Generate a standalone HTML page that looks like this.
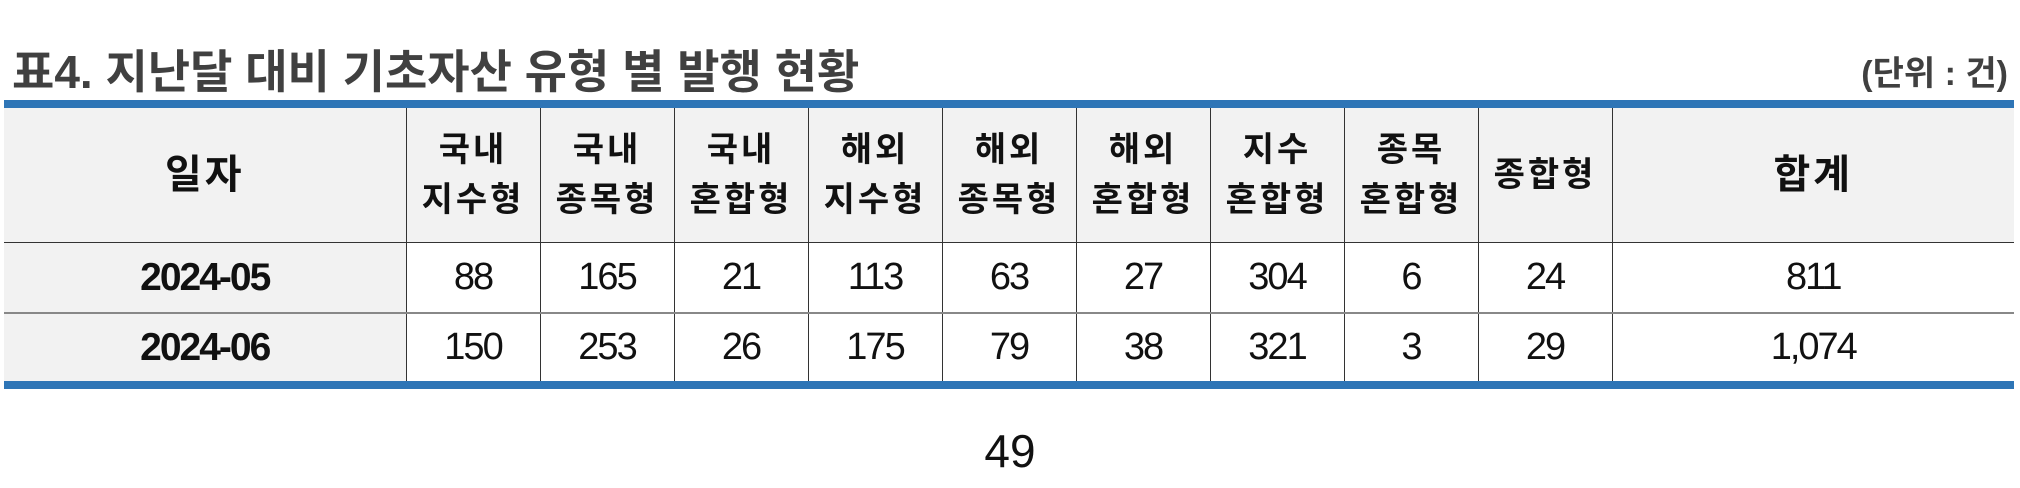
<!DOCTYPE html>
<html><head><meta charset="utf-8"><style>
body{margin:0;width:2020px;height:488px;background:#fff;position:relative;overflow:hidden;font-family:"Liberation Sans","Noto Sans CJK KR",sans-serif;}
.title{position:absolute;left:12px;top:36px;font-size:46px;font-weight:bold;color:#404040;letter-spacing:0px;}
.unit{position:absolute;right:12px;top:46px;font-size:34px;font-weight:bold;color:#404040;}
.bar{position:absolute;left:4px;width:2010px;height:8px;background:#2e75b6;}
table{position:absolute;left:4px;top:108px;border-collapse:collapse;table-layout:fixed;width:2010px;}
td,th{border-left:1px solid #333;border-right:1px solid #333;text-align:center;padding:0;}
tr>*:first-child{border-left:none}tr>*:last-child{border-right:none}
th{background:#f2f2f2;height:134px;font-size:34px;line-height:50px;color:#111;border-bottom:1px solid #333;letter-spacing:3px;}
td{font-size:38px;color:#111;letter-spacing:-2px;}
td.d{background:#f2f2f2;font-weight:bold;font-size:39px;}
tr.r1 td{height:69px;border-bottom:2px solid #888;}
tr.r2 td{height:67px;}
.pg{position:absolute;left:0;width:2020px;top:424px;text-align:center;font-size:46px;color:#111;}
</style></head><body>
<div class="title">표4. 지난달 대비 기초자산 유형 별 발행 현황</div>
<div class="unit">(단위 : 건)</div>
<div class="bar" style="top:100px"></div>
<table>
<colgroup><col style="width:402px"><col style="width:134px"><col style="width:134px"><col style="width:134px"><col style="width:134px"><col style="width:134px"><col style="width:134px"><col style="width:134px"><col style="width:134px"><col style="width:134px"><col style="width:402px"></colgroup>
<tr>
<th style="font-size:40px">일자</th>
<th>국내<br>지수형</th>
<th>국내<br>종목형</th>
<th>국내<br>혼합형</th>
<th>해외<br>지수형</th>
<th>해외<br>종목형</th>
<th>해외<br>혼합형</th>
<th>지수<br>혼합형</th>
<th>종목<br>혼합형</th>
<th>종합형</th>
<th style="font-size:40px">합계</th>
</tr>
<tr class="r1">
<td class="d">2024-05</td><td>88</td><td>165</td><td>21</td><td>113</td><td>63</td><td>27</td><td>304</td><td>6</td><td>24</td><td>811</td></tr>
<tr class="r2">
<td class="d">2024-06</td><td>150</td><td>253</td><td>26</td><td>175</td><td>79</td><td>38</td><td>321</td><td>3</td><td>29</td><td>1,074</td></tr>
</table>
<div class="bar" style="top:381px"></div>
<div class="pg">49</div>
</body></html>
